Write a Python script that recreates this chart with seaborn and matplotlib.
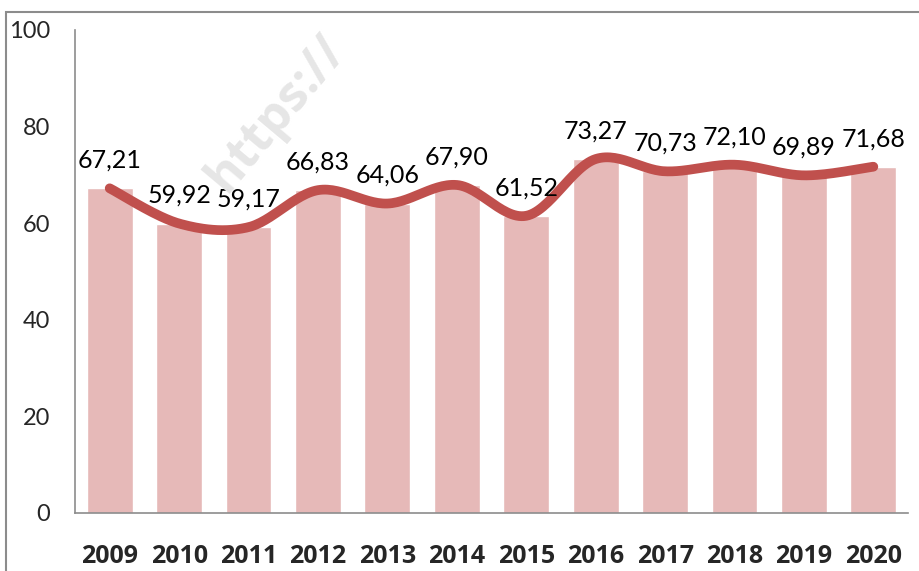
import numpy as np
import pandas as pd
import seaborn as sns
import matplotlib.pyplot as plt
from matplotlib.patches import Rectangle

years = ["2009", "2010", "2011", "2012", "2013", "2014",
         "2015", "2016", "2017", "2018", "2019", "2020"]
values = [67.21, 59.92, 59.17, 66.83, 64.06, 67.90,
          61.52, 73.27, 70.73, 72.10, 69.89, 71.68]
y_ticks = [0, 20, 40, 60, 80, 100]

bar_color = "#E6B9B8"
line_color = "#C0504D"


def smooth_curve(xs, ys, n=30):
    # excel-like smoothed line: cubic bezier with catmull-rom control points
    xs = np.asarray(xs, float)
    ys = np.asarray(ys, float)
    px, py = [], []
    for i in range(len(xs) - 1):
        x0, y0 = (xs[i - 1], ys[i - 1]) if i > 0 else (xs[i], ys[i])
        x3, y3 = (xs[i + 2], ys[i + 2]) if i + 2 < len(xs) else (xs[i + 1], ys[i + 1])
        x1, y1 = xs[i], ys[i]
        x2, y2 = xs[i + 1], ys[i + 1]
        c1 = (x1 + (x2 - x0) / 6, y1 + (y2 - y0) / 6)
        c2 = (x2 - (x3 - x1) / 6, y2 - (y3 - y1) / 6)
        t = np.linspace(0, 1, n)
        bx = (1 - t) ** 3 * x1 + 3 * (1 - t) ** 2 * t * c1[0] + 3 * (1 - t) * t ** 2 * c2[0] + t ** 3 * x2
        by = (1 - t) ** 3 * y1 + 3 * (1 - t) ** 2 * t * c1[1] + 3 * (1 - t) * t ** 2 * c2[1] + t ** 3 * y2
        px.extend(bx)
        py.extend(by)
    return np.array(px), np.array(py)


df = pd.DataFrame({"year": years, "value": values})

sns.set_style("white")
plt.rcParams["font.family"] = ["Lato", "DejaVu Sans"]

fig = plt.figure(figsize=(9.2, 5.71), dpi=100)
ax = fig.add_axes([0.0815, 0.1016, 0.9055, 0.846])

# faint watermark
fig.text(0.30, 0.80, "https://", rotation=50, fontsize=36, fontweight="bold",
         family="Open Sans", color="#E6E6E6", ha="center", va="center", zorder=0)

sns.barplot(data=df, x="year", y="value", color=bar_color, width=0.66,
            saturation=1, ax=ax, zorder=1)
ax.patch.set_alpha(0)

pos = np.arange(len(values))
sx, sy = smooth_curve(pos, values)
ax.plot(sx, sy, color=line_color, lw=7, solid_capstyle="round", zorder=3)

for xi, v in zip(pos, values):
    ax.annotate(f"{v:.2f}".replace(".", ","), (xi, v), xytext=(0, 28),
                textcoords="offset pixels", ha="center", va="center",
                fontsize=18, color="black", zorder=4)

ax.set_xlim(-0.5, 11.5)
ax.set_ylim(0, 100)
ax.set_yticks(y_ticks)
ax.set_xlabel("")
ax.set_ylabel("")
ax.tick_params(axis="y", length=0, pad=18, labelsize=17)
ax.tick_params(axis="x", length=0, pad=22, labelsize=18)
for lab in ax.get_xticklabels():
    lab.set_fontweight("bold")
    lab.set_family("Open Sans")

sns.despine(ax=ax)
for side in ["left", "bottom"]:
    ax.spines[side].set_color("#8C8C8C")
    ax.spines[side].set_linewidth(1.2)

# chart area border
fig.patches.append(Rectangle((6 / 920, -0.05), 1.0, 1.05 - 12 / 571,
                             transform=fig.transFigure, fill=False,
                             edgecolor="#8C8C8C", lw=1.5, zorder=0))

fig.savefig("out.png", dpi=100)
